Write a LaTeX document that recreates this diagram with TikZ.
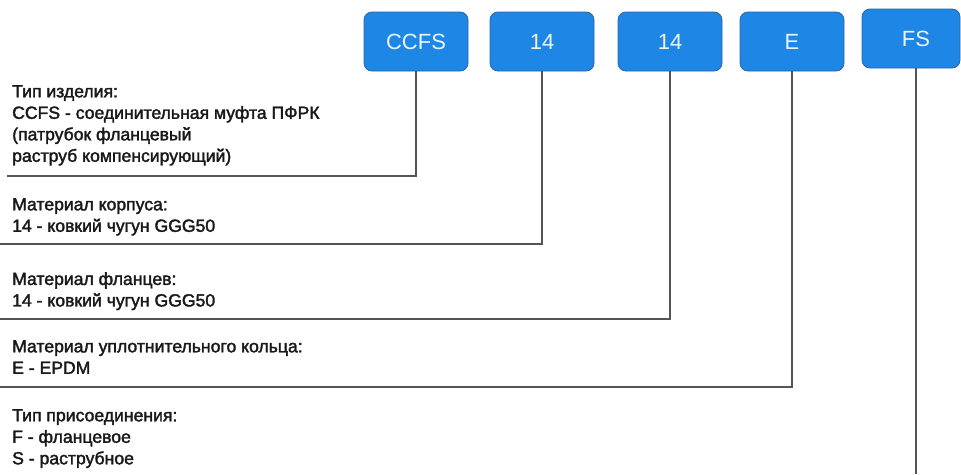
\documentclass[tikz,border=0pt]{standalone}
\usepackage{fontspec}
\setmainfont{Liberation Sans}
\newfontfamily\medfont[FakeBold=2]{Liberation Sans}
\definecolor{boxblue}{RGB}{30,134,228}
\definecolor{boxedge}{RGB}{40,100,170}
\definecolor{linegray}{RGB}{85,85,85}
\definecolor{txt}{RGB}{25,25,25}
\definecolor{boxtxt}{RGB}{235,245,255}
\tikzset{
  codebox/.style={draw=boxedge, line width=0.8pt, fill=boxblue, rounded corners=8pt,
    minimum height=59pt, minimum width=104pt, text=boxtxt,
    font=\fontsize{22}{26}\selectfont, inner sep=0pt},
  desc/.style={anchor=north west, align=left, inner sep=0pt, text=txt,
    font=\medfont\fontsize{17.6}{21.5}\selectfont},
  conn/.style={draw=linegray, line width=1.3pt}
}
\begin{document}
\begin{tikzpicture}[x=1pt,y=-1pt]
\useasboundingbox (0,0) rectangle (961,474);
% code boxes
\node[codebox] (ccfs) at (416,41.5) {CCFS};
\node[codebox] (k1)   at (542,41.5) {14};
\node[codebox] (k2)   at (670,41.5) {14};
\node[codebox] (e)    at (792,41.5) {E};
\node[codebox, minimum width=98pt] (fs) at (911,38.5) {\hspace*{10pt}FS};
% descriptions
\node[desc] (d1) at (12,85) {Тип изделия:\\CCFS - соединительная муфта ПФРК\\(патрубок фланцевый\\раструб компенсирующий)};
\node[desc] (d2) at (12,198) {Материал корпуса:\\14 - ковкий чугун GGG50};
\node[desc] (d3) at (12,272) {Материал фланцев:\\14 - ковкий чугун GGG50};
\node[desc] (d4) at (12,340) {Материал уплотнительного кольца:\\E - EPDM};
\node[desc] (d5) at (12,409) {Тип присоединения:\\F - фланцевое\\S - раструбное};
% connector corners
\coordinate (c1) at (416,176); \coordinate (e1) at (7,176);
\coordinate (c2) at (542,244); \coordinate (e2) at (0,244);
\coordinate (c3) at (670,319); \coordinate (e3) at (0,319);
\coordinate (c4) at (792,387); \coordinate (e4) at (0,387);
\coordinate (c5) at (916,474);
\draw[conn] (ccfs.south) -- (c1) -- (e1);
\draw[conn] (k1.south) -- (c2) -- (e2);
\draw[conn] (k2.south) -- (c3) -- (e3);
\draw[conn] (e.south) -- (c4) -- (e4);
\draw[conn] (fs.south -| c5) -- (c5);
\end{tikzpicture}
\end{document}
